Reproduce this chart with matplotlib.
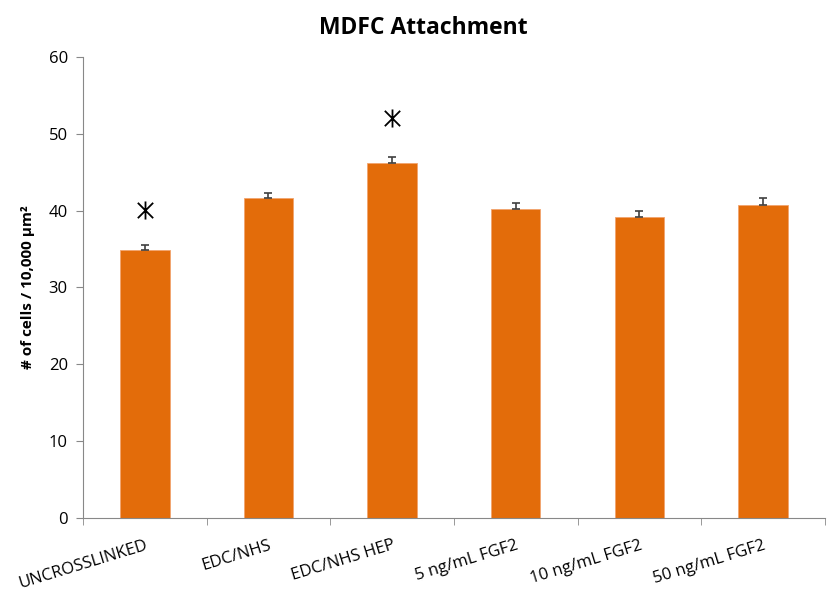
import numpy as np
import matplotlib.pyplot as plt
from matplotlib.path import Path

plt.rcParams['font.family'] = ['Open Sans', 'DejaVu Sans']

groups = ['UNCROSSLINKED', 'EDC/NHS', 'EDC/NHS HEP', '5 ng/mL FGF2', '10 ng/mL FGF2', '50 ng/mL FGF2']
cells = [34.9, 41.6, 46.2, 40.2, 39.2, 40.7]
err = [0.6, 0.7, 0.8, 0.8, 0.8, 0.9]
star_y = [40.1, None, 52.0, None, None, None]

# six-armed asterisk: vertical stroke plus two diagonals
d = 0.85
star = Path([(0, -1), (0, 1), (-d, -d), (d, d), (-d, d), (d, -d)],
            [Path.MOVETO, Path.LINETO] * 3)

fig = plt.figure(figsize=(8.27, 5.92), dpi=100)
ax = fig.add_axes([0.1004, 0.125, 0.897, 0.779])

x = np.arange(len(groups))
ax.bar(x, cells, width=0.4, color='#E36C0A', edgecolor='#F2A46E', linewidth=0.6,
       yerr=[np.zeros(len(err)), err],
       error_kw=dict(ecolor='#404040', elinewidth=1.2, capsize=3, capthick=1.2))

for i in range(len(groups)):
    if star_y[i] is not None:
        ax.plot(x[i], star_y[i], marker=star, color='black', markersize=13, mew=1.3,
                linestyle='none')

ax.set_xlim(-0.5, len(groups) - 0.5)
ax.set_ylim(0, 60)
ax.set_yticks(range(0, 61, 10))
ax.set_xticks(np.arange(len(groups) + 1) - 0.5, minor=True)
ax.set_xticks(x)
ax.set_xticklabels(groups, rotation=17, ha='right', rotation_mode='anchor', fontsize=12)
ax.tick_params(axis='x', which='major', length=0, pad=14)
ax.tick_params(axis='x', which='minor', length=5, color='#888888', direction='out')
ax.tick_params(axis='y', length=5, color='#888888', labelsize=12, direction='out', pad=6)

for sp in ['top', 'right']:
    ax.spines[sp].set_visible(False)
for sp in ['left', 'bottom']:
    ax.spines[sp].set_color('#888888')

ax.set_ylabel('# of cells / 10,000 µm²', fontsize=11, fontweight='bold', labelpad=10)
fig.text(0.512, 0.953, 'MDFC Attachment', fontsize=16.5, fontweight='bold',
         ha='center', va='center')

plt.savefig('out.png')
